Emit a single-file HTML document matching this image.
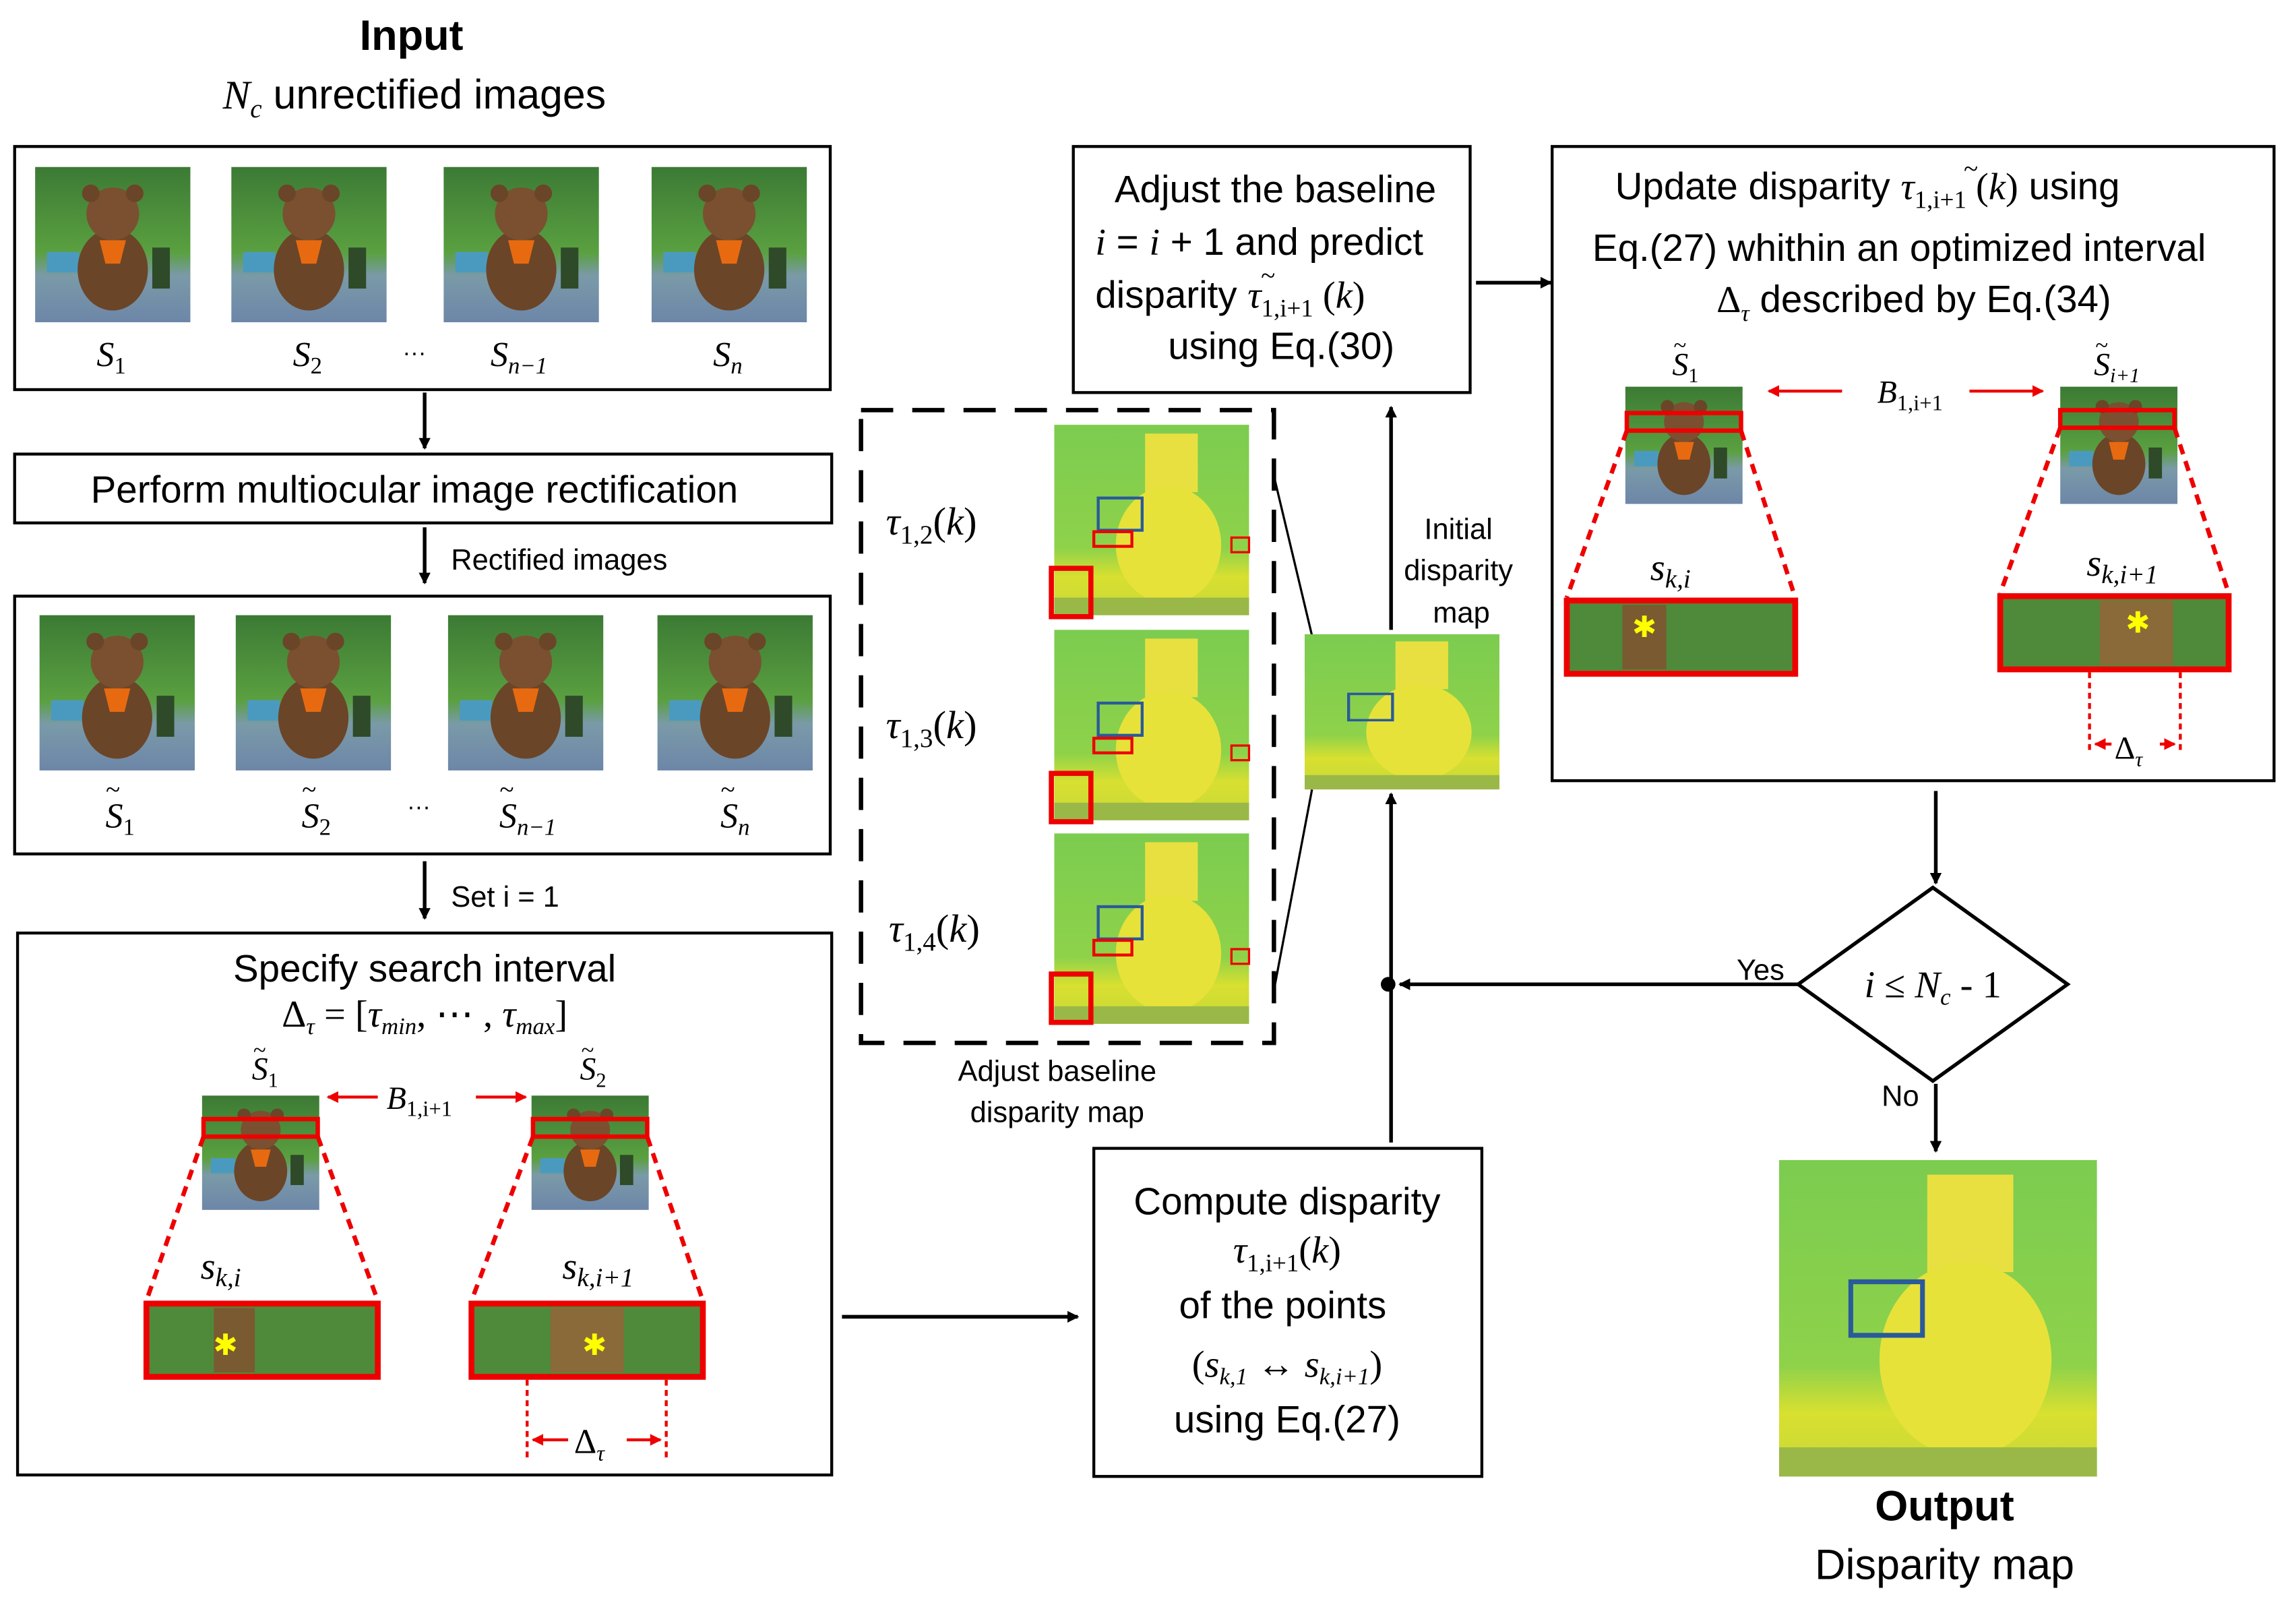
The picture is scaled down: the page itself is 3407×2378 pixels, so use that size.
<!DOCTYPE html>
<html><head><meta charset="utf-8"><style>html,body{margin:0;padding:0;background:#fff}svg{display:block}</style></head>
<body>
<svg xmlns="http://www.w3.org/2000/svg" width="3407" height="2378" viewBox="0 0 1568 1094.4" font-family="Liberation Sans, sans-serif">
<defs>
<marker id="ah" markerWidth="8" markerHeight="8" refX="7" refY="4" orient="auto" markerUnits="userSpaceOnUse"><path d="M0,0 L8,4 L0,8 z" fill="#000"/></marker>
<marker id="rh" markerWidth="8" markerHeight="8" refX="7" refY="4" orient="auto" markerUnits="userSpaceOnUse"><path d="M0,0 L8,4 L0,8 z" fill="#e00"/></marker>
<linearGradient id="sky" x1="0" y1="0" x2="0" y2="1"><stop offset="0" stop-color="#3c7a35"/><stop offset="0.55" stop-color="#5aa040"/><stop offset="0.7" stop-color="#7a9aa8"/><stop offset="1" stop-color="#6d86a8"/></linearGradient>
<linearGradient id="disp" x1="0" y1="0" x2="0" y2="1"><stop offset="0" stop-color="#7ccc50"/><stop offset="0.65" stop-color="#8ed24a"/><stop offset="0.8" stop-color="#d8e030"/><stop offset="1" stop-color="#c8d838"/></linearGradient>
<g id="bear">
<rect width="106" height="106" fill="url(#sky)"/>
<rect x="8" y="58" width="22" height="14" fill="#4a9ac0"/>
<ellipse cx="53" cy="70" rx="24" ry="28" fill="#6b4528"/>
<circle cx="53" cy="32" r="18" fill="#7a5030"/>
<circle cx="38" cy="18" r="6" fill="#6b4528"/><circle cx="68" cy="18" r="6" fill="#6b4528"/>
<path d="M44,50 L62,50 L58,66 L48,66 z" fill="#e86a10"/>
<rect x="80" y="55" width="12" height="28" fill="#2e4a28"/>
</g>
<g id="dmap">
<rect width="133" height="130" fill="url(#disp)"/>
<rect x="62" y="6" width="36" height="40" fill="#e8e040"/>
<ellipse cx="78" cy="82" rx="36" ry="40" fill="#e6e23a"/>
<rect x="30" y="50" width="30" height="22" fill="none" stroke="#2a5a9a" stroke-width="2"/>
<rect x="0" y="118" width="133" height="12" fill="#9ab848"/>
</g>
</defs>

<text x="281" y="34" font-size="29" font-weight="bold" text-anchor="middle">Input</text>
<text x="283" y="74" font-size="28" text-anchor="middle"><tspan font-family="Liberation Serif" font-style="italic">N</tspan><tspan font-family="Liberation Serif" font-style="italic" font-size="18" dy="6">c</tspan><tspan dy="-6"> unrectified images</tspan></text>

<rect x="10" y="100" width="557" height="166" fill="none" stroke="#000" stroke-width="2"/>
<use href="#bear" x="24" y="114"/><use href="#bear" x="158" y="114"/><use href="#bear" x="303" y="114"/><use href="#bear" x="445" y="114"/>
<g font-family="Liberation Serif" font-style="italic" font-size="24">
<text x="66" y="250">S<tspan font-size="16" dy="5" font-style="normal">1</tspan></text>
<text x="200" y="250">S<tspan font-size="16" dy="5" font-style="normal">2</tspan></text>
<text x="335" y="250">S<tspan font-size="16" dy="5">n−1</tspan></text>
<text x="487" y="250">S<tspan font-size="16" dy="5">n</tspan></text>
</g>
<text x="283" y="246" font-size="16" text-anchor="middle">···</text>

<line x1="290" y1="268" x2="290" y2="306" stroke="#000" stroke-width="2.5" marker-end="url(#ah)"/>
<rect x="10" y="310" width="558" height="47" fill="none" stroke="#000" stroke-width="2"/>
<text x="283" y="343" font-size="26" text-anchor="middle">Perform multiocular image rectification</text>
<line x1="290" y1="360" x2="290" y2="398" stroke="#000" stroke-width="2.5" marker-end="url(#ah)"/>
<text x="308" y="389" font-size="20">Rectified images</text>

<rect x="10" y="407" width="557" height="176" fill="none" stroke="#000" stroke-width="2"/>
<use href="#bear" x="27" y="420"/><use href="#bear" x="161" y="420"/><use href="#bear" x="306" y="420"/><use href="#bear" x="449" y="420"/>
<g font-family="Liberation Serif" font-style="italic" font-size="24">
<text x="72" y="565">S<tspan font-size="16" dy="5" font-style="normal">1</tspan></text><text x="72" y="545" font-size="18">~</text>
<text x="206" y="565">S<tspan font-size="16" dy="5" font-style="normal">2</tspan></text><text x="206" y="545" font-size="18">~</text>
<text x="341" y="565">S<tspan font-size="16" dy="5">n−1</tspan></text><text x="341" y="545" font-size="18">~</text>
<text x="492" y="565">S<tspan font-size="16" dy="5">n</tspan></text><text x="492" y="545" font-size="18">~</text>
</g>
<text x="286" y="556" font-size="16" text-anchor="middle">···</text>

<line x1="290" y1="588" x2="290" y2="627" stroke="#000" stroke-width="2.5" marker-end="url(#ah)"/>
<text x="308" y="619" font-size="20">Set i = 1</text>

<rect x="12" y="637" width="556" height="370" fill="none" stroke="#000" stroke-width="2"/>
<text x="290" y="670" font-size="26" text-anchor="middle">Specify search interval</text>
<text x="290" y="701" font-size="26" text-anchor="middle" font-family="Liberation Serif">Δ<tspan font-style="italic" font-size="16" dy="5">τ</tspan><tspan dy="-5">  =  [</tspan><tspan font-style="italic">τ</tspan><tspan font-style="italic" font-size="16" dy="5">min</tspan><tspan dy="-5">,  ⋯ , </tspan><tspan font-style="italic">τ</tspan><tspan font-style="italic" font-size="16" dy="5">max</tspan><tspan dy="-5">]</tspan></text>
<text x="172" y="737" font-family="Liberation Serif" font-style="italic" font-size="22">S<tspan font-size="14" dy="5" font-style="normal">1</tspan></text><text x="173" y="722" font-family="Liberation Serif" font-size="16">~</text>
<text x="396" y="737" font-family="Liberation Serif" font-style="italic" font-size="22">S<tspan font-size="14" dy="5" font-style="normal">2</tspan></text><text x="397" y="722" font-family="Liberation Serif" font-size="16">~</text>
<use href="#bear" transform="translate(138,748) scale(0.755,0.736)"/>
<use href="#bear" transform="translate(363,748) scale(0.755,0.736)"/>
<rect x="139" y="764" width="78" height="12" fill="none" stroke="#e00" stroke-width="3"/>
<rect x="364" y="764" width="78" height="12" fill="none" stroke="#e00" stroke-width="3"/>
<line x1="258" y1="749" x2="224" y2="749" stroke="#e00" stroke-width="2" marker-end="url(#rh)"/>
<line x1="325" y1="749" x2="359" y2="749" stroke="#e00" stroke-width="2" marker-end="url(#rh)"/>
<text x="264" y="757" font-family="Liberation Serif" font-style="italic" font-size="22">B<tspan font-size="15" dy="5" font-style="normal">1,i+1</tspan></text>
<g stroke="#e00" stroke-width="3" stroke-dasharray="7,5">
<line x1="139" y1="776" x2="100" y2="888"/><line x1="217" y1="776" x2="258" y2="888"/>
<line x1="364" y1="776" x2="322" y2="888"/><line x1="442" y1="776" x2="480" y2="888"/>
</g>
<text x="137" y="873" font-family="Liberation Serif" font-style="italic" font-size="26">s<tspan font-size="18" dy="5">k,i</tspan></text>
<text x="384" y="873" font-family="Liberation Serif" font-style="italic" font-size="26">s<tspan font-size="18" dy="5">k,i+1</tspan></text>
<rect x="100" y="890" width="158" height="50" fill="#4e8a3a" stroke="#e00" stroke-width="4"/>
<rect x="146" y="893" width="28" height="44" fill="#7a5a30"/>
<text x="154" y="925" font-size="20" fill="#ff0" text-anchor="middle">✱</text>
<rect x="322" y="890" width="158" height="50" fill="#4e8a3a" stroke="#e00" stroke-width="4"/>
<rect x="376" y="893" width="50" height="44" fill="#8a6a38"/>
<text x="406" y="925" font-size="20" fill="#ff0" text-anchor="middle">✱</text>
<g stroke="#e00" stroke-width="2" stroke-dasharray="4,3"><line x1="360" y1="942" x2="360" y2="998"/><line x1="455" y1="942" x2="455" y2="998"/></g>
<line x1="388" y1="983" x2="364" y2="983" stroke="#e00" stroke-width="2" marker-end="url(#rh)"/>
<line x1="428" y1="983" x2="451" y2="983" stroke="#e00" stroke-width="2" marker-end="url(#rh)"/>
<text x="392" y="992" font-family="Liberation Serif" font-size="24">Δ<tspan font-style="italic" font-size="15" dy="5">τ</tspan></text>

<line x1="575" y1="899" x2="736" y2="899" stroke="#000" stroke-width="2.5" marker-end="url(#ah)"/>

<rect x="588" y="280" width="282" height="432" fill="none" stroke="#000" stroke-width="3" stroke-dasharray="22,13"/>
<g font-family="Liberation Serif" font-style="italic" font-size="27">
<text x="605" y="365">τ<tspan font-style="normal" font-size="18" dy="6">1,2</tspan><tspan font-style="normal" dy="-6">(</tspan>k<tspan font-style="normal">)</tspan></text>
<text x="605" y="504">τ<tspan font-style="normal" font-size="18" dy="6">1,3</tspan><tspan font-style="normal" dy="-6">(</tspan>k<tspan font-style="normal">)</tspan></text>
<text x="607" y="643">τ<tspan font-style="normal" font-size="18" dy="6">1,4</tspan><tspan font-style="normal" dy="-6">(</tspan>k<tspan font-style="normal">)</tspan></text>
</g>
<use href="#dmap" x="720" y="290"/><use href="#dmap" x="720" y="430"/><use href="#dmap" x="720" y="569"/>
<g fill="none" stroke="#e00">
<rect x="747" y="363" width="26" height="10" stroke-width="2"/><rect x="841" y="367" width="12" height="10" stroke-width="1.5"/><rect x="718" y="388" width="27" height="33" stroke-width="3.5"/>
<rect x="747" y="504" width="26" height="10" stroke-width="2"/><rect x="841" y="509" width="12" height="10" stroke-width="1.5"/><rect x="718" y="528" width="27" height="33" stroke-width="3.5"/>
<rect x="747" y="642" width="26" height="10" stroke-width="2"/><rect x="841" y="648" width="12" height="10" stroke-width="1.5"/><rect x="718" y="665" width="27" height="33" stroke-width="3.5"/>
</g>
<text x="722" y="738" font-size="20" text-anchor="middle">Adjust baseline</text>
<text x="722" y="766" font-size="20" text-anchor="middle">disparity map</text>

<line x1="870" y1="325" x2="896" y2="434" stroke="#000" stroke-width="1.5"/>
<line x1="870" y1="676" x2="896" y2="539" stroke="#000" stroke-width="1.5"/>
<use href="#dmap" transform="translate(891,433) scale(1,0.815)"/>
<text x="996" y="368" font-size="20" text-anchor="middle">Initial</text>
<text x="996" y="396" font-size="20" text-anchor="middle">disparity</text>
<text x="998" y="425" font-size="20" text-anchor="middle">map</text>

<line x1="950" y1="430" x2="950" y2="278" stroke="#000" stroke-width="2.5" marker-end="url(#ah)"/>
<line x1="950" y1="780" x2="950" y2="542" stroke="#000" stroke-width="2.5" marker-end="url(#ah)"/>

<rect x="733" y="100" width="271" height="168" fill="none" stroke="#000" stroke-width="2"/>
<text x="871" y="138" font-size="26" text-anchor="middle">Adjust the baseline</text>
<text x="748" y="174" font-size="26"><tspan font-family="Liberation Serif" font-style="italic">i</tspan> = <tspan font-family="Liberation Serif" font-style="italic">i</tspan> + 1 and predict</text>
<text x="748" y="210" font-size="26">disparity  <tspan font-family="Liberation Serif" font-style="italic">τ</tspan><tspan font-family="Liberation Serif" font-size="17" dy="6">1,i+1</tspan><tspan dy="-6" font-family="Liberation Serif"> (<tspan font-style="italic">k</tspan>)</tspan></text>
<text x="866" y="194" font-size="18" font-family="Liberation Serif" text-anchor="middle">~</text>
<text x="875" y="245" font-size="26" text-anchor="middle">using Eq.(30)</text>

<line x1="1008" y1="193" x2="1059" y2="193" stroke="#000" stroke-width="2.5" marker-end="url(#ah)"/>

<rect x="1060" y="100" width="493" height="433" fill="none" stroke="#000" stroke-width="2"/>
<text x="1103" y="136" font-size="26">Update  disparity  <tspan font-family="Liberation Serif" font-style="italic">τ</tspan><tspan font-family="Liberation Serif" font-size="17" dy="6">1,i+1</tspan><tspan dy="-6" font-family="Liberation Serif"> (<tspan font-style="italic">k</tspan>)</tspan>  using</text>
<text x="1346" y="121" font-size="18" font-family="Liberation Serif" text-anchor="middle">~</text>
<text x="1297" y="178" font-size="26" text-anchor="middle">Eq.(27) whithin an optimized interval</text>
<text x="1307" y="213" font-size="26" text-anchor="middle"><tspan font-family="Liberation Serif">Δ</tspan><tspan font-family="Liberation Serif" font-style="italic" font-size="16" dy="6">τ</tspan><tspan dy="-6">  described by Eq.(34)</tspan></text>
<text x="1142" y="256" font-family="Liberation Serif" font-style="italic" font-size="22">S<tspan font-size="14" dy="5" font-style="normal">1</tspan></text><text x="1143" y="241" font-family="Liberation Serif" font-size="16">~</text>
<text x="1430" y="256" font-family="Liberation Serif" font-style="italic" font-size="22">S<tspan font-size="14" dy="5">i+1</tspan></text><text x="1431" y="241" font-family="Liberation Serif" font-size="16">~</text>
<use href="#bear" transform="translate(1110,264) scale(0.755,0.755)"/>
<use href="#bear" transform="translate(1407,264) scale(0.755,0.755)"/>
<rect x="1111" y="282" width="78" height="12" fill="none" stroke="#e00" stroke-width="3"/>
<rect x="1407" y="280" width="78" height="12" fill="none" stroke="#e00" stroke-width="3"/>
<line x1="1258" y1="267" x2="1208" y2="267" stroke="#e00" stroke-width="2" marker-end="url(#rh)"/>
<line x1="1345" y1="267" x2="1395" y2="267" stroke="#e00" stroke-width="2" marker-end="url(#rh)"/>
<text x="1282" y="275" font-family="Liberation Serif" font-style="italic" font-size="22">B<tspan font-size="15" dy="5" font-style="normal">1,i+1</tspan></text>
<g stroke="#e00" stroke-width="3" stroke-dasharray="7,5">
<line x1="1111" y1="294" x2="1070" y2="408"/><line x1="1189" y1="294" x2="1226" y2="408"/>
<line x1="1407" y1="292" x2="1366" y2="405"/><line x1="1485" y1="292" x2="1522" y2="405"/>
</g>
<text x="1127" y="396" font-family="Liberation Serif" font-style="italic" font-size="26">s<tspan font-size="18" dy="5">k,i</tspan></text>
<text x="1425" y="393" font-family="Liberation Serif" font-style="italic" font-size="26">s<tspan font-size="18" dy="5">k,i+1</tspan></text>
<rect x="1070" y="410" width="156" height="50" fill="#4e8a3a" stroke="#e00" stroke-width="4"/>
<rect x="1108" y="413" width="30" height="44" fill="#7a5a30"/>
<text x="1123" y="435" font-size="20" fill="#ff0" text-anchor="middle">✱</text>
<rect x="1366" y="407" width="156" height="50" fill="#4e8a3a" stroke="#e00" stroke-width="4"/>
<rect x="1434" y="410" width="50" height="44" fill="#8a6a38"/>
<text x="1460" y="432" font-size="20" fill="#ff0" text-anchor="middle">✱</text>
<g stroke="#e00" stroke-width="2" stroke-dasharray="4,3"><line x1="1427" y1="459" x2="1427" y2="512"/><line x1="1489" y1="459" x2="1489" y2="512"/></g>
<line x1="1442" y1="508" x2="1431" y2="508" stroke="#e00" stroke-width="2" marker-end="url(#rh)"/>
<line x1="1475" y1="508" x2="1485" y2="508" stroke="#e00" stroke-width="2" marker-end="url(#rh)"/>
<text x="1444" y="518" font-family="Liberation Serif" font-size="22">Δ<tspan font-style="italic" font-size="14" dy="5">τ</tspan></text>

<line x1="1322" y1="540" x2="1322" y2="603" stroke="#000" stroke-width="2.5" marker-end="url(#ah)"/>
<polygon points="1320,606 1412,672 1320,738 1228,672" fill="#fff" stroke="#000" stroke-width="2.5"/>
<text x="1320" y="681" font-size="26" text-anchor="middle" font-family="Liberation Serif"><tspan font-style="italic">i</tspan> ≤ <tspan font-style="italic">N</tspan><tspan font-style="italic" font-size="16" dy="5">c</tspan><tspan dy="-5"> - 1</tspan></text>
<line x1="1228" y1="672" x2="956" y2="672" stroke="#000" stroke-width="2.5" marker-end="url(#ah)"/>
<circle cx="948" cy="672" r="5" fill="#000"/>
<text x="1186" y="669" font-size="20">Yes</text>
<text x="1285" y="755" font-size="20">No</text>
<line x1="1322" y1="740" x2="1322" y2="786" stroke="#000" stroke-width="2.5" marker-end="url(#ah)"/>

<rect x="747" y="784" width="265" height="224" fill="none" stroke="#000" stroke-width="2"/>
<text x="879" y="829" font-size="26" text-anchor="middle">Compute  disparity</text>
<text x="879" y="862" font-size="26" text-anchor="middle" font-family="Liberation Serif"><tspan font-style="italic">τ</tspan><tspan font-size="17" dy="6">1,i+1</tspan><tspan dy="-6">(<tspan font-style="italic">k</tspan>)</tspan></text>
<text x="876" y="900" font-size="26" text-anchor="middle">of the points</text>
<text x="879" y="940" font-size="26" text-anchor="middle" font-family="Liberation Serif">(<tspan font-style="italic">s</tspan><tspan font-size="16" dy="5" font-style="italic">k,1</tspan><tspan dy="-5"> ↔ </tspan><tspan font-style="italic">s</tspan><tspan font-size="16" dy="5" font-style="italic">k,i+1</tspan><tspan dy="-5">)</tspan></text>
<text x="879" y="978" font-size="26" text-anchor="middle">using Eq.(27)</text>

<g transform="translate(1215,792) scale(1.632,1.662)"><use href="#dmap"/></g>
<text x="1328" y="1038" font-size="29" font-weight="bold" text-anchor="middle">Output</text>
<text x="1328" y="1078" font-size="29" text-anchor="middle">Disparity map</text>
</svg>
</body></html>
